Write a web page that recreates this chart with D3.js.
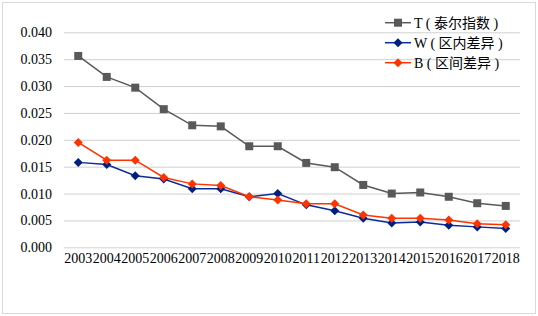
<!DOCTYPE html>
<html>
<head>
<meta charset="utf-8">
<script src="https://cdn.jsdelivr.net/npm/d3@7"></script>
<style>
  body { margin: 0; background: #fff; }
</style>
</head>
<body>
<div id="chart"></div>
<script>
var years = ["2003","2004","2005","2006","2007","2008","2009","2010","2011","2012","2013","2014","2015","2016","2017","2018"];
var t_values = [0.0356,0.0317,0.0297,0.0257,0.0227,0.0225,0.0188,0.0188,0.0157,0.0149,0.0116,0.0100,0.0102,0.0094,0.0082,0.0077];
var w_values = [0.0158,0.0154,0.0133,0.0127,0.0109,0.0109,0.0094,0.0100,0.0079,0.0068,0.0054,0.0045,0.0047,0.0041,0.0038,0.0035];
var b_values = [0.0195,0.0162,0.0162,0.0130,0.0118,0.0115,0.0094,0.0088,0.0081,0.0081,0.0060,0.0054,0.0054,0.0051,0.0044,0.0042];
var y_ticks = [0, 0.005, 0.010, 0.015, 0.020, 0.025, 0.030, 0.035, 0.040];
var series_names = ["T ( 泰尔指数 )", "W ( 区内差异 )", "B ( 区间差异 )"];

// constants
var width = 538;
var height = 316;
var plot_left = 64, plot_right = 520, plot_top = 32.3, plot_bottom = 247.3;
var color_t = "#595959";
var color_w = "#0a2b9b";
var color_w_mark = "#002080";
var color_b = "#ff3300";
var color_grid = "#d0d0d0";
var font = "'Liberation Serif', 'Times New Roman', serif";

var svg = d3.select("#chart")
  .append("svg")
  .attr("width", width)
  .attr("height", height);

// chart border
svg.append("rect")
  .attr("x", 2.5).attr("y", 2.5)
  .attr("width", width - 5).attr("height", height - 5)
  .style("fill", "#fff")
  .style("stroke", "#d9d9d9")
  .style("stroke-width", 1);

var x_scale = d3.scaleBand()
  .range([plot_left, plot_right])
  .domain(years);

var y_scale = d3.scaleLinear()
  .range([plot_bottom, plot_top])
  .domain([0, 0.040]);

function xc(i) { return x_scale(years[i]) + x_scale.bandwidth() / 2; }

// gridlines
let y_grid = d3.axisLeft(y_scale).tickValues(y_ticks).tickSize(-(plot_right - plot_left)).tickFormat("");
svg.append("g").attr("class", "y gridlines")
  .attr("transform", "translate(" + plot_left + ",0)")
  .call(y_grid)
  .call(g => g.select(".domain").remove())
  .call(g => g.selectAll("line").style("stroke", color_grid).style("stroke-width", 1));

// y axis labels
let y_axis = d3.axisLeft(y_scale).tickValues(y_ticks).tickSize(0).tickPadding(12)
  .tickFormat(d3.format(".3f"));
svg.append("g").attr("class", "y axis")
  .attr("transform", "translate(" + plot_left + ",0)")
  .call(y_axis)
  .call(g => g.select(".domain").remove())
  .call(g => g.selectAll("text")
    .style("font-family", font)
    .style("font-size", "14px")
    .style("fill", "#000"));

// x axis labels
let x_axis = d3.axisBottom(x_scale).tickSize(0).tickPadding(6);
svg.append("g").attr("class", "x axis")
  .attr("transform", "translate(0," + plot_bottom + ")")
  .call(x_axis)
  .call(g => g.select(".domain").remove())
  .call(g => g.selectAll("text")
    .style("font-family", font)
    .style("font-size", "14px")
    .style("fill", "#000"));

var line = d3.line()
  .x((d, i) => xc(i))
  .y(d => y_scale(d));

var square = "M-4,-4H4V4H-4Z";
var diamond = "M0,-4.5L4.5,0L0,4.5L-4.5,0Z";

function drawSeries(values, color, markColor, sym) {
  svg.append("path")
    .datum(values)
    .attr("d", line)
    .style("fill", "none")
    .style("stroke", color)
    .style("stroke-width", 1.5);
  svg.append("g").selectAll("path")
    .data(values)
    .enter().append("path")
    .attr("d", sym)
    .attr("transform", (d, i) => "translate(" + xc(i) + "," + y_scale(d) + ")")
    .style("fill", markColor);
}

drawSeries(t_values, color_t, color_t, square);
drawSeries(w_values, color_w, color_w_mark, diamond);
drawSeries(b_values, color_b, color_b, diamond);

// legend
var legend_items = [
  {name: series_names[0], color: color_t, mark: color_t, sym: square},
  {name: series_names[1], color: color_w, mark: color_w_mark, sym: diamond},
  {name: series_names[2], color: color_b, mark: color_b, sym: diamond}
];
var key = svg.append("g");
legend_items.forEach(function(d, i) {
  var y = 22.7 + i * 20;
  key.append("line")
    .attr("x1", 385).attr("x2", 411)
    .attr("y1", y).attr("y2", y)
    .style("stroke", d.color)
    .style("stroke-width", 1.5);
  key.append("path")
    .attr("d", d.sym)
    .attr("transform", "translate(398," + y + ")")
    .style("fill", d.mark);
  key.append("text")
    .attr("x", 414)
    .attr("y", y)
    .attr("dy", "0.35em")
    .style("font-family", font + ", 'Noto Sans CJK SC'")
    .style("font-size", "14px")
    .style("fill", "#000")
    .text(d.name);
});
</script>
</body>
</html>
